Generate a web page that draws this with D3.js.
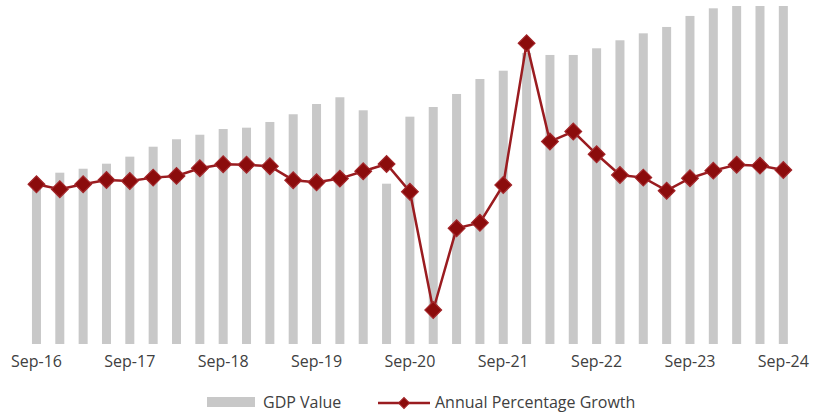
<!DOCTYPE html>
<html>
<head>
<meta charset="utf-8">
<script src="https://cdn.jsdelivr.net/npm/d3@7"></script>
<style>
  body { margin: 0; background: #fff; }
  text { font-family: "Open Sans", sans-serif; fill: #404040; }
</style>
</head>
<body>
<div id="chart"></div>
<script>
const chart_width = 813,
      chart_height = 414;

// quarters, Sep-16 .. Sep-24
const quarters = [
  "Sep-16", "Dec-16", "Mar-17", "Jun-17", "Sep-17", "Dec-17", "Mar-18", "Jun-18",
  "Sep-18", "Dec-18", "Mar-19", "Jun-19", "Sep-19", "Dec-19", "Mar-20", "Jun-20",
  "Sep-20", "Dec-20", "Mar-21", "Jun-21", "Sep-21", "Dec-21", "Mar-22", "Jun-22",
  "Sep-22", "Dec-22", "Mar-23", "Jun-23", "Sep-23", "Dec-23", "Mar-24", "Jun-24",
  "Sep-24"
];
const tick_labels = ["Sep-16", "Sep-17", "Sep-18", "Sep-19", "Sep-20", "Sep-21", "Sep-22", "Sep-23", "Sep-24"];

const gdp_value = [
  166.7, 177.4, 181.5, 186.7, 194.0, 204.3, 212.0, 216.7,
  222.6, 224.0, 229.9, 237.9, 248.5, 255.5, 242.0, 166.0,
  235.4, 245.4, 258.9, 274.4, 283.0, 301.3, 299.3, 299.3,
  306.2, 314.5, 321.7, 328.3, 339.7, 347.6, 355.0, 360.0,
  364.0
];
const annual_growth = [
  5.00, 4.59, 5.00, 5.35, 5.27, 5.54, 5.68, 6.31,
  6.64, 6.60, 6.47, 5.33, 5.16, 5.46, 6.06, 6.66,
  4.39, -5.30, 1.39, 1.85, 4.94, 16.55, 8.49, 9.31,
  7.45, 5.76, 5.54, 4.47, 5.49, 6.11, 6.60, 6.52,
  6.17
];

const gdp_domain = [0, 350],
      growth_domain = [-8, 20];

const svg = d3.select("#chart")
  .append("svg")
    .attr("width", chart_width)
    .attr("height", chart_height);

const x = d3.scaleBand()
  .domain(quarters)
  .range([24.8, 795])
  .paddingInner(0.614)
  .paddingOuter(0.307);

const y_gdp = d3.scaleLinear()
  .domain(gdp_domain)
  .range([344, 6])
  .clamp(true);

const y_growth = d3.scaleLinear()
  .domain(growth_domain)
  .range([343, 1]);

const center = (d) => x(d) + x.bandwidth() / 2;

// bars
svg.append("g")
  .selectAll("rect")
  .data(quarters)
  .join("rect")
    .attr("x", (d) => x(d))
    .attr("width", x.bandwidth())
    .attr("y", (d, i) => y_gdp(gdp_value[i]))
    .attr("height", (d, i) => y_gdp(0) - y_gdp(gdp_value[i]))
    .attr("fill", "#c8c8c8");

// growth line
const line = d3.line()
  .x((d, i) => center(quarters[i]))
  .y((d) => y_growth(d));

svg.append("path")
  .datum(annual_growth)
  .attr("d", line)
  .attr("fill", "none")
  .attr("stroke", "#9a1c20")
  .attr("stroke-width", 2.5);

const diamond = d3.symbol().type(d3.symbolSquare).size(140);

svg.append("g")
  .selectAll("path")
  .data(annual_growth)
  .join("path")
    .attr("d", diamond)
    .attr("transform", (d, i) => `translate(${center(quarters[i])},${y_growth(d)}) rotate(45)`)
    .attr("fill", "#8b0c0c")
    .attr("stroke", "#a3262a")
    .attr("stroke-width", 1.2);

// x axis labels, no axis line
const x_axis = d3.axisBottom(x)
  .tickValues(tick_labels)
  .tickSize(0)
  .tickPadding(0);

const axis_g = svg.append("g")
  .attr("transform", "translate(0,352)")
  .call(x_axis);
axis_g.select(".domain").remove();
axis_g.selectAll("text")
  .attr("dy", "0.95em")
  .style("font-size", "16px")
  .style("font-family", "'Open Sans', sans-serif")
  .attr("fill", "#404040");

// legend
const legend = svg.append("g");
legend.append("rect")
  .attr("x", 207).attr("y", 397)
  .attr("width", 48).attr("height", 10)
  .attr("fill", "#c8c8c8");
legend.append("text")
  .attr("x", 263).attr("y", 408)
  .style("font-size", "16px")
  .text("GDP Value");

legend.append("line")
  .attr("x1", 378).attr("x2", 430)
  .attr("y1", 403).attr("y2", 403)
  .attr("stroke", "#9a1c20")
  .attr("stroke-width", 2.5);
legend.append("path")
  .attr("d", d3.symbol().type(d3.symbolSquare).size(60))
  .attr("transform", "translate(404,403) rotate(45)")
  .attr("fill", "#8b0c0c")
  .attr("stroke", "#a3262a");
legend.append("text")
  .attr("x", 435).attr("y", 408)
  .style("font-size", "16px")
  .text("Annual Percentage Growth");
</script>
</body>
</html>
